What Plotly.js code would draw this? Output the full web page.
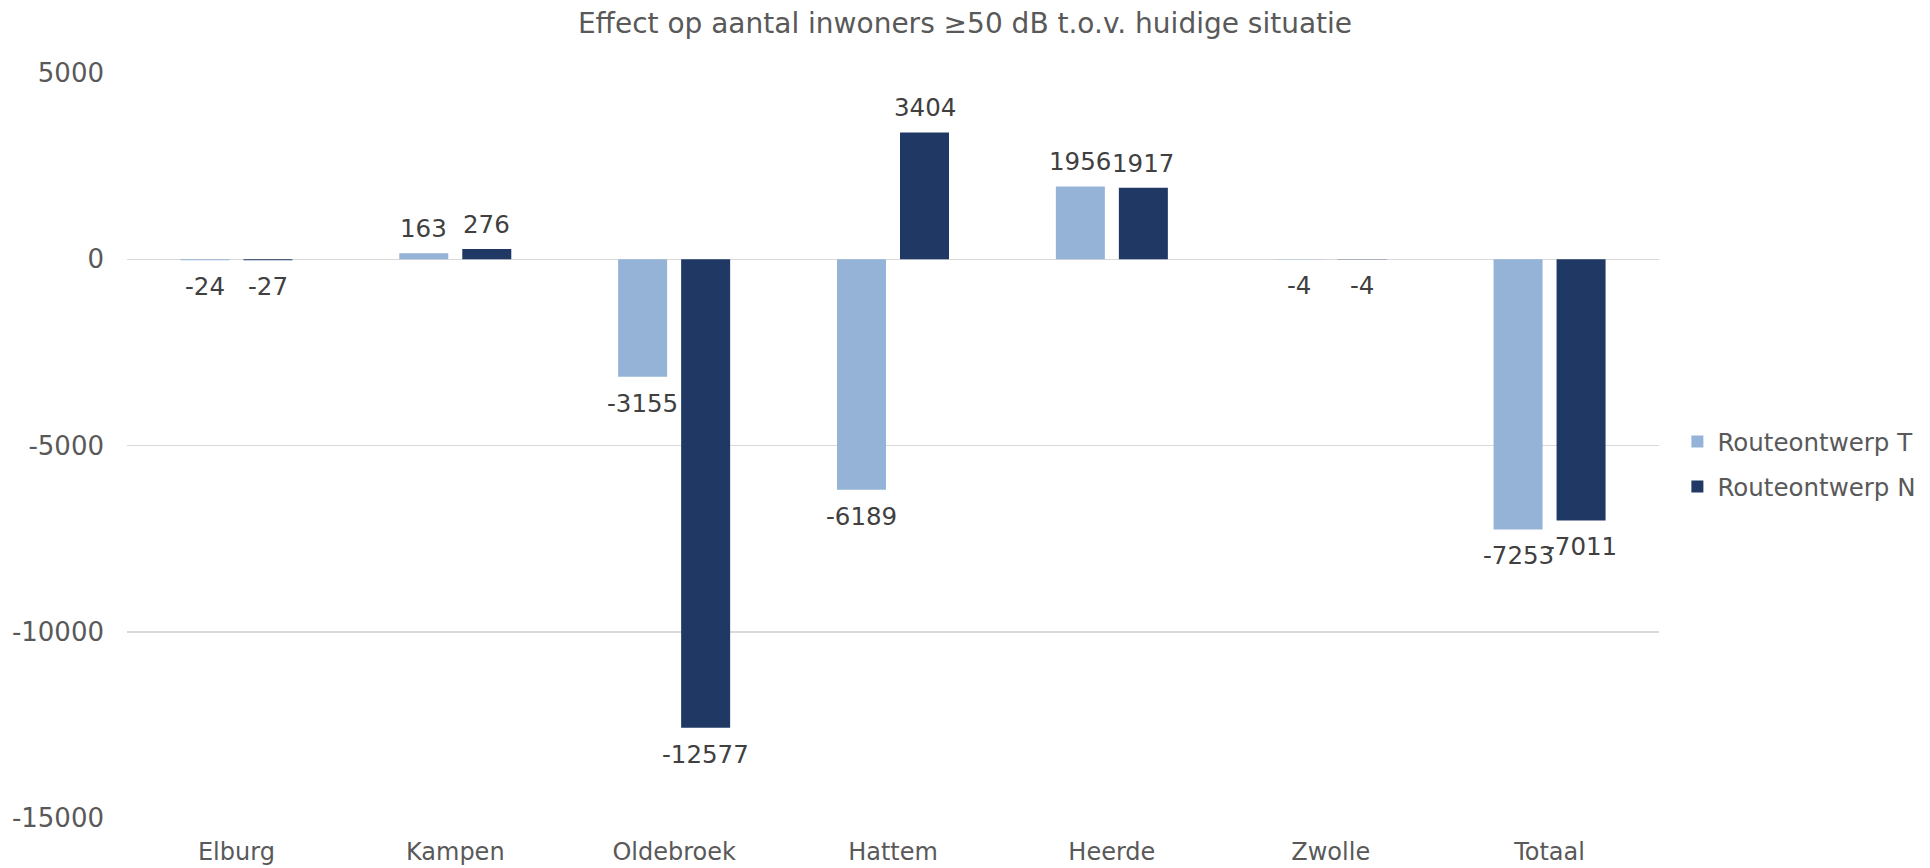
<!DOCTYPE html>
<html>
<head>
<meta charset="utf-8">
<script src="https://cdn.plot.ly/plotly-3.0.1.min.js"></script>
<style>html,body{margin:0;padding:0;background:#fff;}#chart{width:1930px;height:868px;}</style>
</head>
<body>
<div id="chart"></div>
<script>
const categories = ["Elburg", "Kampen", "Oldebroek", "Hattem", "Heerde", "Zwolle", "Totaal"];
const seriesNames = ["Routeontwerp T", "Routeontwerp N"];
const valuesT = [-24, 163, -3155, -6189, 1956, -4, -7253];
const valuesN = [-27, 276, -12577, 3404, 1917, -4, -7011];
const yTickVals = [5000, 0, -5000, -10000, -15000];
const yTickText = ["5000", "0", "-5000", "-10000", "-15000"];

const colorT = "#95B3D7";
const colorN = "#203864";
const FONT = "DejaVu Sans";
const textGray = "#595959";
const labelGray = "#404040";

const traces = [
  {type: "bar", name: seriesNames[0], x: categories, y: valuesT, marker: {color: colorT}, legendgroup: "t", hoverinfo: "none"},
  {type: "bar", name: seriesNames[1], x: categories, y: valuesN, marker: {color: colorN}, legendgroup: "n", hoverinfo: "none"}
];

const annotations = [];
[[valuesT, -31.5], [valuesN, 31.5]].forEach(([vals, xs]) => {
  vals.forEach((v, i) => {
    annotations.push({
      x: categories[i], y: v, xref: "x", yref: "y",
      text: String(v), showarrow: false,
      xshift: xs, yanchor: v >= 0 ? "bottom" : "top",
      yshift: v >= 0 ? 8 : -10,
      font: {family: FONT, size: 24.5, color: labelGray}
    });
  });
});

const layout = {
  width: 1930, height: 868,
  paper_bgcolor: "#ffffff", plot_bgcolor: "#ffffff",
  margin: {l: 127, r: 271, t: 73, b: 50, autoexpand: false},
  font: {family: FONT, color: textGray},
  title: {text: "Effect op aantal inwoners ≥50 dB t.o.v. huidige situatie", x: 0.5, xref: "container", y: 0.984, yref: "container", yanchor: "top", font: {family: FONT, size: 28, color: textGray}},
  barmode: "group", bargap: 0.4243, bargroupgap: 0.2222,
  xaxis: {tickfont: {family: FONT, size: 24, color: textGray}, showgrid: false, zeroline: false, showline: false, ticks: "", ticklabelstandoff: 17},
  yaxis: {range: [-15000, 5000], tickvals: yTickVals, ticktext: yTickText, tickfont: {family: FONT, size: 26, color: textGray}, showgrid: true, gridcolor: "#d9d9d9", gridwidth: 1.5, zeroline: false, showline: false, ticks: "", ticklabelstandoff: 22},
  legend: {x: 1.012, xanchor: "left", y: 0.475, yanchor: "middle", font: {family: FONT, size: 24.5, color: textGray}, tracegroupgap: 10, bgcolor: "rgba(0,0,0,0)"},
  annotations: annotations,
  showlegend: true
};

Plotly.newPlot("chart", traces, layout, {displayModeBar: false, staticPlot: true});
</script>
</body>
</html>
